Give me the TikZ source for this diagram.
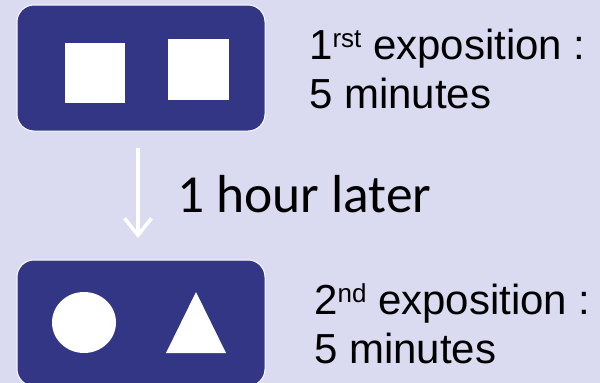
\documentclass[tikz,border=0pt]{standalone}
\usepackage{fontspec}
\setmainfont{Liberation Sans}
\newfontfamily\calfont{Carlito}
\usetikzlibrary{arrows.meta, shapes.geometric}
\definecolor{expoblue}{RGB}{51,54,133}
\definecolor{lavender}{RGB}{218,218,240}
\newcommand{\ordsup}[1]{\raisebox{12pt}{\fontsize{26}{26}\selectfont #1}}

\begin{document}
\begin{tikzpicture}[x=1pt, y=-1pt,
    panel/.style={rectangle, rounded corners=17pt, draw=white, line width=1pt, fill=expoblue, minimum width=248pt, minimum height=126pt},
    figure/.style={fill=white, inner sep=0pt},
    legend/.style={anchor=base west, inner sep=0pt, align=left, font=\fontsize{42}{49}\selectfont},
    later/.style={line width=3.5pt, white, -{Straight Barb[length=17pt, width=27pt]}}
]
\clip (0,0) rectangle (600,383);
\fill[lavender] (0,0) rectangle (600,383);
\node[panel] (first) at (141,68) {};
\node[panel] (second) at (141,323) {};
\node[figure, rectangle, minimum size=60pt] (squareA) at (95,72.5) {};
\node[figure, rectangle, minimum size=61pt] (squareB) at (198.5,69.5) {};
\node[figure, ellipse, minimum width=64pt, minimum height=61pt] (disc) at (84,322.5) {};
\fill[white] (166,353) -- (196,292) -- (226,353) -- cycle;
\coordinate (start) at (138,148);
\coordinate (stop) at (138,238);
\draw[later] (start) -- (stop);
\node[anchor=base west, inner sep=0pt, font=\calfont\fontsize{53.5}{60}\selectfont] (delay) at (177,212) {1 hour later};
\node[legend] (expoA) at (309,108) {1\ordsup{rst} exposition :\\5 minutes};
\node[legend] (expoB) at (314,363) {2\ordsup{nd} exposition :\\5 minutes};
\end{tikzpicture}
\end{document}
